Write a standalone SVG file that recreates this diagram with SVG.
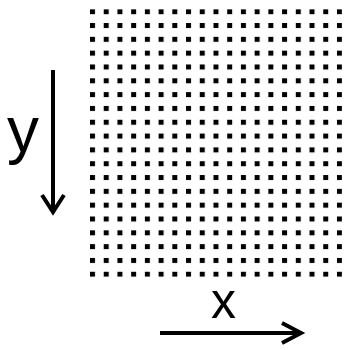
<svg xmlns="http://www.w3.org/2000/svg" width="359" height="350" viewBox="0 0 359 350">
  <style>
    .axis { stroke: #000; stroke-width: 4; fill: none; stroke-linecap: butt; }
    .head { stroke: #000; stroke-width: 4; fill: none; stroke-linejoin: miter; }
    .lbl { font-family: "Liberation Sans", Arial, sans-serif; fill: #000; }
  </style>
  <defs>
    <pattern id="dots" x="90" y="9.2" width="13.72" height="13.82" patternUnits="userSpaceOnUse">
      <rect x="0" y="0" width="5" height="5" fill="#000"/>
    </pattern>
  </defs>
  <rect width="359" height="350" fill="#fff"/>
  <rect id="grid" x="90" y="9.2" width="252" height="267.6" fill="url(#dots)"/>
  <g id="connectors">
    <g id="y-axis">
      <line class="axis" x1="53" y1="70" x2="53" y2="211"/>
      <polyline class="head" points="42,195 53,212 64,195"/>
    </g>
    <g id="x-axis">
      <line class="axis" x1="160" y1="333" x2="301" y2="333"/>
      <polyline class="head" points="282,323 301,333 282,343"/>
    </g>
  </g>
  <text class="lbl" x="7" y="152" font-size="64">y</text>
  <text class="lbl" x="211" y="318" font-size="50">x</text>
</svg>
